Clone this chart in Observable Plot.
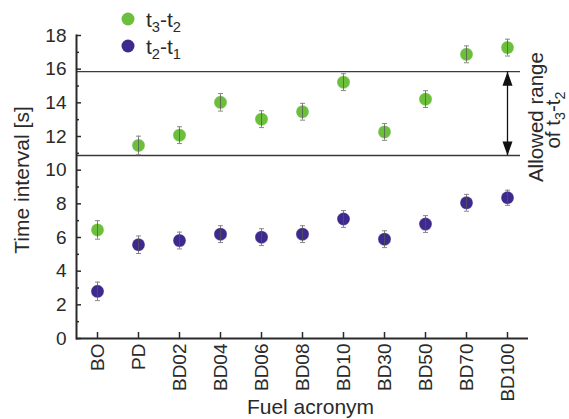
<!DOCTYPE html>
<html>
<head>
<meta charset="utf-8">
<script src="https://cdn.jsdelivr.net/npm/d3@7"></script>
<script src="https://cdn.jsdelivr.net/npm/@observablehq/plot@0.6"></script>
<style>
  html, body { margin: 0; padding: 0; background: #fff; }
  #chart svg { display: block; }
</style>
</head>
<body>
<div id="chart"></div>
<script>
// ---- data ----
const categories = ["BO", "PD", "BD02", "BD04", "BD06", "BD08", "BD10", "BD30", "BD50", "BD70", "BD100"];
const t32 = [6.45, 11.47, 12.08, 14.03, 13.03, 13.47, 15.23, 12.27, 14.22, 16.88, 17.28];
const t32err = [0.55, 0.55, 0.5, 0.52, 0.5, 0.5, 0.5, 0.5, 0.5, 0.5, 0.5];
const t21 = [2.8, 5.57, 5.82, 6.2, 6.02, 6.2, 7.1, 5.9, 6.8, 8.06, 8.36];
const t21err = [0.55, 0.52, 0.5, 0.5, 0.5, 0.5, 0.5, 0.5, 0.5, 0.5, 0.45];
const allowedRange = [10.87, 15.85];
const yMajorTicks = [0, 2, 4, 6, 8, 10, 12, 14, 16, 18];
const yMinorTicks = [1, 3, 5, 7, 9, 11, 13, 15, 17];
const seriesNames = ["t3-t2", "t2-t1"];
const colors = {"t3-t2": "#6cbf3c", "t2-t1": "#3e2a8c"};

const rows = [];
categories.forEach((c, i) => {
  rows.push({fuel: c, series: "t3-t2", value: t32[i], err: t32err[i]});
  rows.push({fuel: c, series: "t2-t1", value: t21[i], err: t21err[i]});
});

const W = 569, H = 419;
const mL = 76, mR = 41, mT = 35, mB = 81;
const frameW = W - mL - mR, frameH = H - mT - mB;

const headUp = {draw(ctx) { ctx.moveTo(0, 0); ctx.lineTo(-5, 14); ctx.lineTo(5, 14); ctx.closePath(); }};
const headDown = {draw(ctx) { ctx.moveTo(0, 0); ctx.lineTo(-5, -14); ctx.lineTo(5, -14); ctx.closePath(); }};
const capSymbol = {draw(ctx) { ctx.moveTo(-2.5, 0); ctx.lineTo(2.5, 0); }};

const plot = Plot.plot({
  width: W, height: H,
  marginLeft: mL, marginRight: mR, marginTop: mT, marginBottom: mB,
  style: {fontFamily: "'Liberation Sans', Arial, sans-serif", fontSize: "19px", color: "#2a2a2a", background: "#fff"},
  x: {type: "point", domain: categories, padding: 0.5},
  y: {domain: [0, 18]},
  color: {domain: seriesNames, range: seriesNames.map(s => colors[s])},
  marks: [
    // allowed range lines
    Plot.ruleY(allowedRange, {stroke: "#3a3a3a", strokeWidth: 1.3, insetRight: 8}),
    // arrow
    Plot.ruleX(["BD100"], {y1: allowedRange[0], y2: allowedRange[1], stroke: "#111", strokeWidth: 1.3}),
    Plot.dot([{x: "BD100", y: allowedRange[1]}], {x: "x", y: "y", symbol: headUp, fill: "#111", stroke: "none"}),
    Plot.dot([{x: "BD100", y: allowedRange[0]}], {x: "x", y: "y", symbol: headDown, fill: "#111", stroke: "none"}),
    // points
    Plot.dot(rows, {x: "fuel", y: "value", r: 6.5, fill: "series", stroke: "#fff", strokeOpacity: 0.4, strokeWidth: 0.8}),
    // error bars
    Plot.ruleX(rows, {x: "fuel", y1: d => d.value - d.err, y2: d => d.value + d.err, stroke: "#555", strokeOpacity: 0.75, strokeWidth: 1}),
    Plot.dot(rows, {x: "fuel", y: d => d.value - d.err, symbol: capSymbol, stroke: "#888", strokeWidth: 1, fill: "none"}),
    Plot.dot(rows, {x: "fuel", y: d => d.value + d.err, symbol: capSymbol, stroke: "#888", strokeWidth: 1, fill: "none"}),
    // axes lines
    Plot.ruleY([0], {stroke: "#2a2a2a", strokeWidth: 2}),
    Plot.frame({anchor: "left", stroke: "#2a2a2a", strokeWidth: 2}),
    // tick marks (inward)
    Plot.ruleY(yMajorTicks, {stroke: "#2a2a2a", strokeWidth: 1.5, insetRight: frameW - 5}),
    Plot.ruleY(yMinorTicks, {stroke: "#2a2a2a", strokeWidth: 1.5, insetRight: frameW - 3}),
    Plot.ruleX(categories, {stroke: "#2a2a2a", strokeWidth: 1.5, insetTop: frameH - 6}),
    // tick labels
    Plot.axisY({ticks: yMajorTicks, tickSize: 0, tickPadding: 10, label: null, fontSize: 19}),
    Plot.axisX({tickSize: 0, tickPadding: 5, tickRotate: -90, label: null, fontSize: 19}),
    // axis titles
    Plot.text(["Time interval [s]"], {frameAnchor: "left", textAnchor: "middle", lineAnchor: "middle", dx: -54, dy: -7, rotate: -90, fontSize: 21, fill: "#2a2a2a"}),
    Plot.text(["Fuel acronym"], {frameAnchor: "bottom", textAnchor: "middle", lineAnchor: "middle", dx: 8, dy: 69, fontSize: 21, fill: "#2a2a2a"})
  ]
});

document.getElementById("chart").appendChild(plot);

// ---- legend and annotation with subscripts ----
const svg = d3.select(plot.tagName === "svg" ? plot : plot.querySelector("svg"));
const xs = plot.scale("x"), ys = plot.scale("y");
const font = "'Liberation Sans', Arial, sans-serif";

function subText(g, parts, size, anchor) {
  const t = g.append("text").attr("font-family", font).attr("font-size", size)
    .attr("fill", "#2a2a2a").attr("text-anchor", anchor);
  let shifted = false;
  const shift = size * 0.24;
  parts.forEach(([s, sub]) => {
    const ts = t.append("tspan").text(s);
    if (sub && !shifted) { ts.attr("dy", shift).attr("font-size", size * 0.7); shifted = true; }
    else if (sub && shifted) { ts.attr("font-size", size * 0.7); }
    else if (!sub && shifted) { ts.attr("dy", -shift); shifted = false; }
  });
  return t;
}

const legend = svg.append("g");
const legendItems = [
  {name: seriesNames[0], parts: [["t", false], ["3", true], ["-t", false], ["2", true]], y: 19},
  {name: seriesNames[1], parts: [["t", false], ["2", true], ["-t", false], ["1", true]], y: 46}
];
legendItems.forEach(item => {
  legend.append("circle").attr("cx", 128).attr("cy", item.y).attr("r", 6.5).attr("fill", colors[item.name]);
  const g = legend.append("g").attr("transform", `translate(146,${item.y + 8})`);
  subText(g, item.parts, 21, "start");
});

const xArrow = xs.apply("BD100");
const yMid = ys.apply((allowedRange[0] + allowedRange[1]) / 2);
const ann = svg.append("g");
ann.append("text")
  .attr("transform", `translate(${xArrow + 36},${yMid + 4}) rotate(-90)`)
  .attr("text-anchor", "middle")
  .attr("font-family", font).attr("font-size", 20.5).attr("fill", "#2a2a2a")
  .text("Allowed range");
const g2 = ann.append("g").attr("transform", `translate(${xArrow + 53},${yMid + 7}) rotate(-90)`);
subText(g2, [["of t", false], ["3", true], ["-t", false], ["2", true]], 20.5, "middle");
</script>
</body>
</html>
